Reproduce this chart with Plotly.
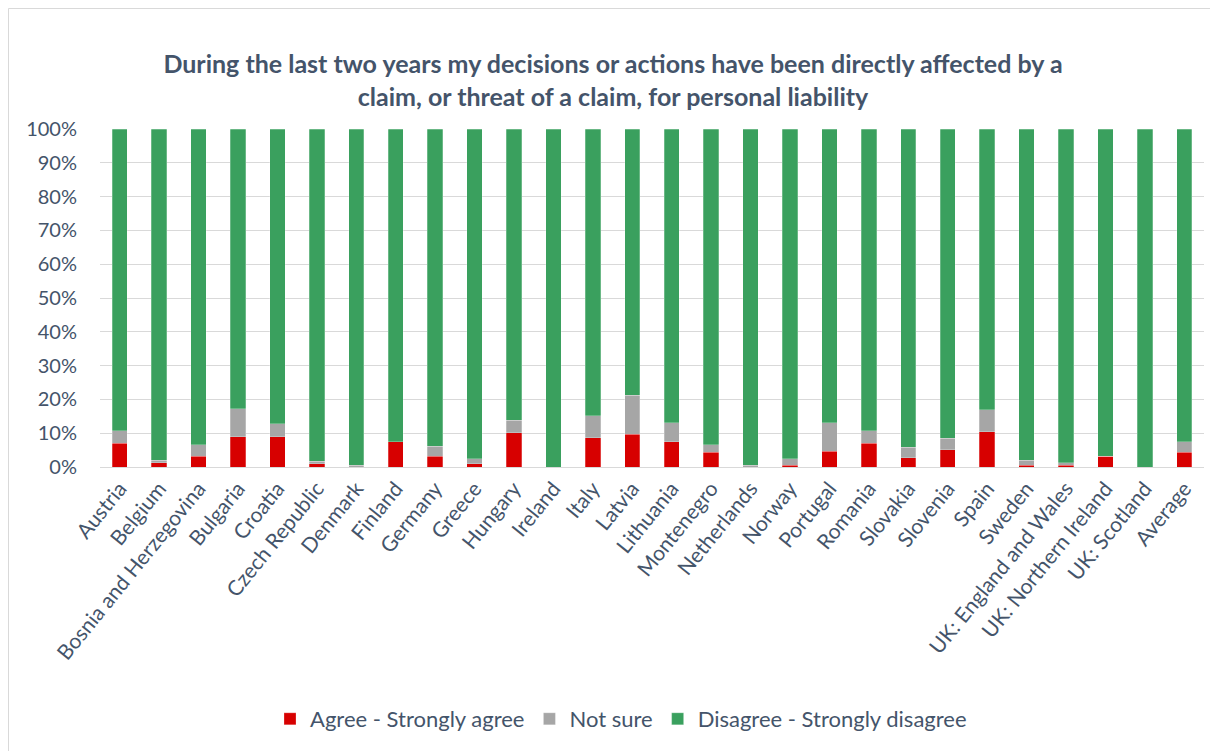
import plotly.graph_objects as go

categories = ["Austria", "Belgium", "Bosnia and Herzegovina", "Bulgaria", "Croatia",
              "Czech Republic", "Denmark", "Finland", "Germany", "Greece", "Hungary",
              "Ireland", "Italy", "Latvia", "Lithuania", "Montenegro", "Netherlands",
              "Norway", "Portugal", "Romania", "Slovakia", "Slovenia", "Spain", "Sweden",
              "UK: England and Wales", "UK: Northern Ireland", "UK: Scotland", "Average"]

agree = [7.0, 1.3, 3.2, 9.0, 9.0, 0.9, 0.0, 7.5, 3.2, 0.9, 10.1, 0.0, 8.6, 9.7,
         7.4, 4.4, 0.0, 0.5, 4.7, 7.1, 2.8, 5.1, 10.5, 0.5, 0.5, 3.2, 0.0, 4.4]
not_sure = [3.8, 0.7, 3.4, 8.3, 3.8, 0.8, 0.5, 0.0, 3.0, 1.5, 3.8, 0.0, 6.5, 11.6,
            5.7, 2.2, 0.5, 1.9, 8.4, 3.7, 3.0, 3.4, 6.5, 1.5, 0.8, 0.0, 0.0, 3.0]
disagree = [round(100 - a - n, 1) for a, n in zip(agree, not_sure)]

series = [("Agree - Strongly agree", agree, "#D70000"),
          ("Not sure", not_sure, "#A6A6A6"),
          ("Disagree - Strongly disagree", disagree, "#3AA05E")]

W, H = 1210, 743
L, R, T, B = 92, 14, 121, 284
PW, PH = W - L - R, H - T - B

font_family = "Lato, 'Open Sans', sans-serif"
text_col = "#44546A"
fig = go.Figure()
for name, vals, col in series:
    fig.add_trace(go.Bar(x=categories, y=[v / 100 for v in vals], name=name,
                         marker=dict(color=col, line=dict(color="rgba(255,255,255,0.5)", width=0.5))))

fig.update_layout(
    barmode="stack",
    bargap=0.61,
    width=W, height=H,
    margin=dict(l=L, r=R, t=T, b=B, autoexpand=False),
    paper_bgcolor="white", plot_bgcolor="white",
    font=dict(family=font_family, color=text_col, size=20),
    title=dict(text="<b>During the last two years my decisions or actions have been directly affected by a<br>claim, or threat of a claim, for personal liability</b>",
               x=0.5, xanchor="center", y=1 - 65 / H, yanchor="middle",
               font=dict(size=25, color=text_col, family=font_family)),
    legend=dict(orientation="h", x=(613 - L) / PW, xanchor="center",
                y=(T + PH - 711) / PH, yanchor="middle",
                font=dict(size=22, color=text_col), traceorder="normal"),
    yaxis=dict(range=[0, 1], tickformat=".0%", dtick=0.1, gridcolor="#D9D9D9",
               gridwidth=1, zeroline=False, ticks="", ticklabelstandoff=22,
               tickfont=dict(size=20), automargin=False),
    xaxis=dict(tickangle=-51, showline=True, linecolor="#D9D9D9", ticks="",
               tickfont=dict(size=21), automargin=False),
    shapes=[dict(type="rect", xref="paper", yref="paper",
                 x0=(0.5 - L) / PW, x1=(W + 20 - L) / PW,
                 y0=(T + PH - H - 20) / PH, y1=(T + PH - 0.5) / PH,
                 line=dict(color="#D9D9D9", width=1), layer="below")],
)
fig.write_html("out.html")
